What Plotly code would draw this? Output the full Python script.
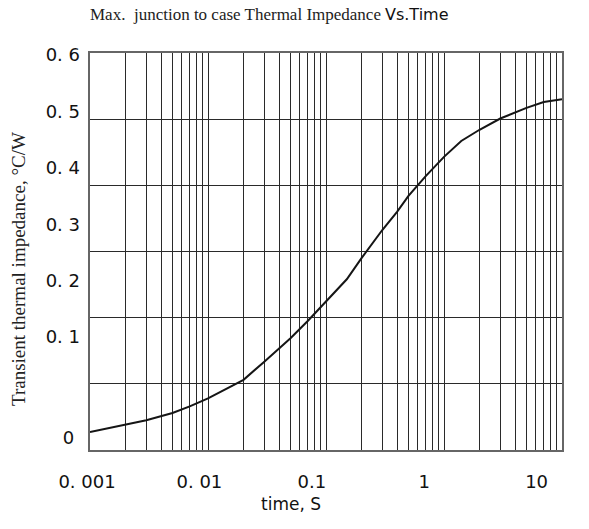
import plotly.graph_objects as go

# ---- data ----
time_s = [0.001, 0.002, 0.003, 0.005, 0.007, 0.01, 0.015, 0.02, 0.03, 0.05, 0.07,
          0.1, 0.15, 0.2, 0.3, 0.4, 0.5, 0.7, 1, 1.4, 2, 3, 5, 7, 10]
zth = [0.027, 0.038, 0.045, 0.056, 0.066, 0.078, 0.094, 0.106, 0.1335, 0.169, 0.195,
       0.224, 0.258, 0.290, 0.3325, 0.360, 0.384, 0.414, 0.443, 0.467, 0.484, 0.501,
       0.517, 0.526, 0.530]

x_tick_labels = ["0. 001", "0. 01", "0.1", "1", "10"]
y_tick_labels = ["0. 6", "0. 5", "0. 4", "0. 3", "0. 2", "0. 1", "0\u00a0"]

title_serif = "Max.  junction to case Thermal Impedance"
title_sans = "Vs.Time"
x_title = "time, S"
y_title = "Transient thermal impedance, °C/W"

# ---- layout geometry (pixels) ----
W, H = 589, 529
L, R, T, B = 90, 562, 53, 450      # plot frame
ML = 76                             # left margin of the paper area
pw, ph = R - ML, B - T

def px_x(p):
    return (p - ML) / pw

def px_y(p):
    return (B - p) / ph

# tick labels in the reference sit slightly off the grid lines, so they are
# drawn on helper axes whose range is expressed in screen pixels
x_lab_px = [87 + 112.4 * i for i in range(len(x_tick_labels))]
y_lab_px = [55 + 56.4 * i for i in range(len(y_tick_labels) - 1)] + [438]

grid_c = "#2a2a2a"
frame_c = "#666666"
tick_font = dict(family="DejaVu Sans", size=18, color="#111")

fig = go.Figure()
fig.add_trace(go.Scatter(x=time_s, y=zth, mode="lines",
                         line=dict(color="#151515", width=2),
                         showlegend=False, hoverinfo="skip"))
# invisible helper trace so the label axes get drawn
fig.add_trace(go.Scatter(x=[ML, R], y=[B, T], mode="lines", xaxis="x2", yaxis="y2",
                         line=dict(width=0), showlegend=False, hoverinfo="skip"))

fig.update_layout(
    width=W, height=H,
    margin=dict(l=ML, r=W - R, t=T, b=H - B),
    paper_bgcolor="white", plot_bgcolor="rgba(0,0,0,0)",
    xaxis=dict(type="log", range=[-3, 1], dtick=1, showticklabels=False,
               domain=[px_x(L), 1],
               showgrid=True, gridcolor=grid_c, gridwidth=1,
               minor=dict(dtick="D1", showgrid=True, gridcolor=grid_c, gridwidth=1, ticks=""),
               showline=True, mirror=True, linecolor=frame_c, linewidth=1.5,
               zeroline=False, ticks="", automargin=False, fixedrange=True),
    yaxis=dict(range=[0, 0.6], tickvals=[0, 0.1, 0.2, 0.3, 0.4, 0.5, 0.6],
               showticklabels=False, showgrid=True, gridcolor=grid_c, gridwidth=1,
               showline=True, mirror=True, linecolor=frame_c, linewidth=1.5,
               zeroline=False, ticks="", automargin=False, fixedrange=True),
    xaxis2=dict(range=[ML, R], domain=[0, 1], anchor="y2",
                tickvals=x_lab_px, ticktext=x_tick_labels, tickfont=tick_font,
                showgrid=False, showline=False, zeroline=False, ticks="",
                ticklabelstandoff=19, automargin=False, fixedrange=True),
    yaxis2=dict(range=[B, T], domain=[0, 1], anchor="x", side="left",
                tickvals=y_lab_px, ticktext=y_tick_labels, tickfont=tick_font,
                showgrid=False, showline=False, zeroline=False, ticks="",
                ticklabelstandoff=9, automargin=False, fixedrange=True),
    annotations=[
        dict(text=title_serif, xref="paper", yref="paper", x=px_x(383), y=px_y(14),
             xanchor="right", yanchor="middle", showarrow=False,
             font=dict(family="Liberation Serif, Times New Roman", size=17, color="#222")),
        dict(text=title_sans, xref="paper", yref="paper", x=px_x(383), y=px_y(14),
             xanchor="left", yanchor="middle", showarrow=False,
             font=dict(family="DejaVu Sans", size=16, color="#111")),
        dict(text=x_title, xref="paper", yref="paper", x=px_x(291), y=px_y(504),
             xanchor="center", yanchor="middle", showarrow=False,
             font=dict(family="DejaVu Sans", size=17, color="#111")),
        dict(text=y_title, xref="paper", yref="paper", x=px_x(18), y=px_y(269),
             xanchor="center", yanchor="middle", showarrow=False, textangle=-90,
             font=dict(family="Liberation Serif, Times New Roman", size=19, color="#222")),
    ],
)

fig.write_html("out.html", config={"displayModeBar": False},
               post_script="document.body.style.margin='0';")
